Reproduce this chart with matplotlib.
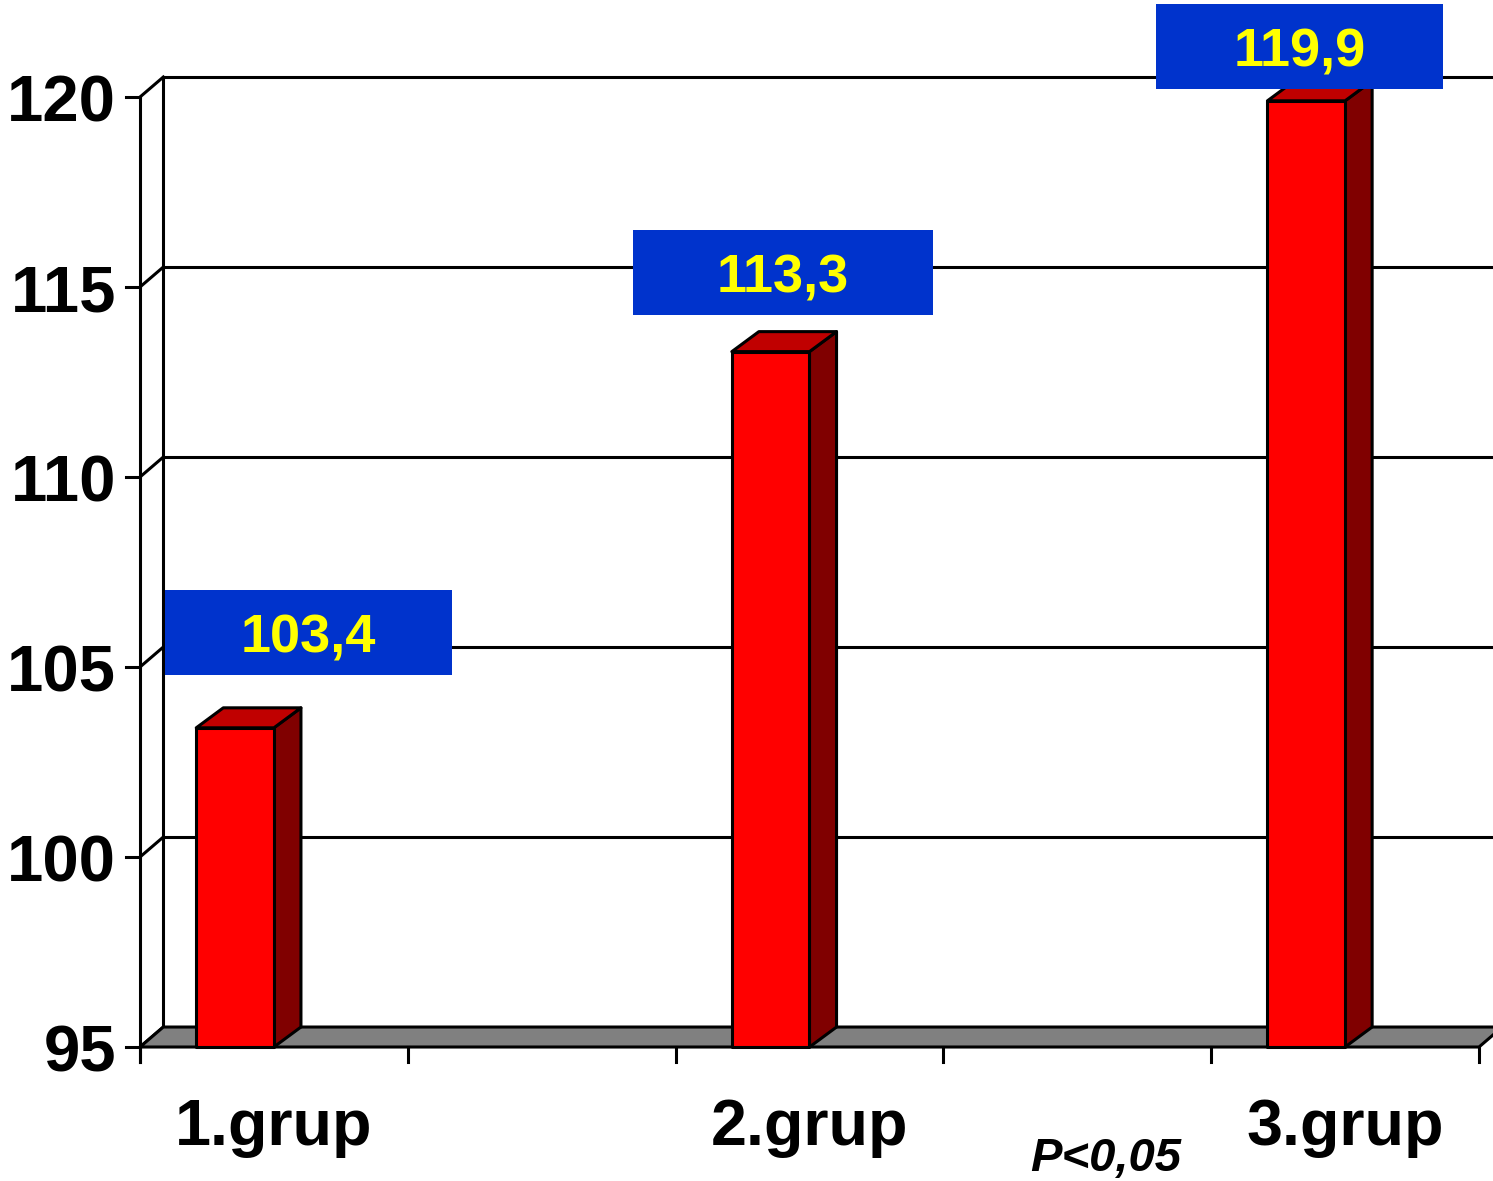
import matplotlib
matplotlib.use("Agg")
import matplotlib.pyplot as plt
from matplotlib.patches import Rectangle, Polygon

# ---- data ----
categories = ["1.grup", "2.grup", "3.grup"]
values = [103.4, 113.3, 119.9]
value_labels = ["103,4", "113,3", "119,9"]
yticks = [95, 100, 105, 110, 115, 120]
yticklabels = ["95", "100", "105", "110", "115", "120"]
p_text = "P<0,05"

# ---- layout (category axis units, value units) ----
cat_pos = [0.5, 2.5, 4.5]          # category slots on a 0..5 axis
n_slots = 5
bar_w = 0.29
DXW, DXB, DY = 0.087, 0.101, 0.526  # oblique depth of walls / bars
box_dx = [0.13, -0.10, -0.17]
box_dy = [2.51, 2.08, 1.42]
box_w = [1.07, 1.12, 1.07]
box_h = 2.24
ymin, ymax = yticks[0], yticks[-1]

RED, TOP, SIDE = "#FF0000", "#C00000", "#800000"
FLOOR, BOXC, YEL = "#808080", "#0033CC", "#FFFF00"
LW = 2.2
FONT = "Liberation Sans"

fig = plt.figure(figsize=(14.93, 11.81), dpi=100)
ax = fig.add_axes([0, 0, 1, 1])
ax.set_xlim(-0.5228, 5.0523)
ax.set_ylim(91.474, 122.553)
ax.axis("off")

# back wall gridlines
for v in yticks[1:]:
    ax.plot([DXW, n_slots + DXW], [v + DY, v + DY], color="black", lw=LW,
            solid_capstyle="butt", zorder=1)
# back wall left edge
ax.plot([DXW, DXW], [ymin + DY, ymax + DY], color="black", lw=LW, zorder=1)
# left wall diagonals
for v in yticks:
    ax.plot([0, DXW], [v, v + DY], color="black", lw=LW, zorder=1)
# front y-axis and ticks
ax.plot([0, 0], [ymin - 0.4, ymax], color="black", lw=LW, zorder=2)
for v, lab in zip(yticks, yticklabels):
    ax.plot([-0.052, 0], [v, v], color="black", lw=LW, zorder=2)
    ax.text(-0.0896, v - 0.64, lab, ha="right", va="baseline",
            fontsize=47, fontweight="bold", family=FONT, zorder=5)

# floor
ax.add_patch(Polygon([(0, ymin), (n_slots, ymin), (n_slots + DXW, ymin + DY),
                      (DXW, ymin + DY)], closed=True, facecolor=FLOOR,
                     edgecolor="black", lw=LW, zorder=2))
# x ticks
for k in range(n_slots + 1):
    ax.plot([k, k], [ymin, ymin - 0.4], color="black", lw=LW, zorder=2)

# bars
for p, v in zip(cat_pos, values):
    x0, x1 = p - bar_w, p
    ax.add_patch(Polygon([(x1, ymin), (x1 + DXB, ymin + DY), (x1 + DXB, v + DY),
                          (x1, v)], closed=True, facecolor=SIDE,
                         edgecolor="black", lw=LW, zorder=3, joinstyle="round"))
    ax.add_patch(Polygon([(x0, v), (x1, v), (x1 + DXB, v + DY), (x0 + DXB, v + DY)],
                         closed=True, facecolor=TOP, edgecolor="black", lw=LW,
                         zorder=3, joinstyle="round"))
    ax.add_patch(Rectangle((x0, ymin), bar_w, v - ymin, facecolor=RED,
                           edgecolor="black", lw=LW, zorder=4, joinstyle="round"))

# value boxes
for p, v, lab, dx, dy, w in zip(cat_pos, values, value_labels, box_dx, box_dy, box_w):
    cx, cy = p + dx, v + dy
    ax.add_patch(Rectangle((cx - w / 2, cy - box_h / 2), w, box_h,
                           facecolor=BOXC, edgecolor="none", zorder=6))
    ax.text(cx, cy - 0.53, lab, ha="center", va="baseline", color=YEL,
            fontsize=39, fontweight="bold", family=FONT, zorder=7)

# category labels
for p, c in zip(cat_pos, categories):
    ax.text(p, 92.42, c, ha="center", va="baseline", fontsize=46.5,
            fontweight="bold", family=FONT, zorder=5)

ax.text(3.607, 91.74, p_text, ha="center", va="baseline", fontsize=34,
        fontweight="bold", fontstyle="italic", family=FONT, zorder=5)

fig.savefig("out.png", dpi=100)
